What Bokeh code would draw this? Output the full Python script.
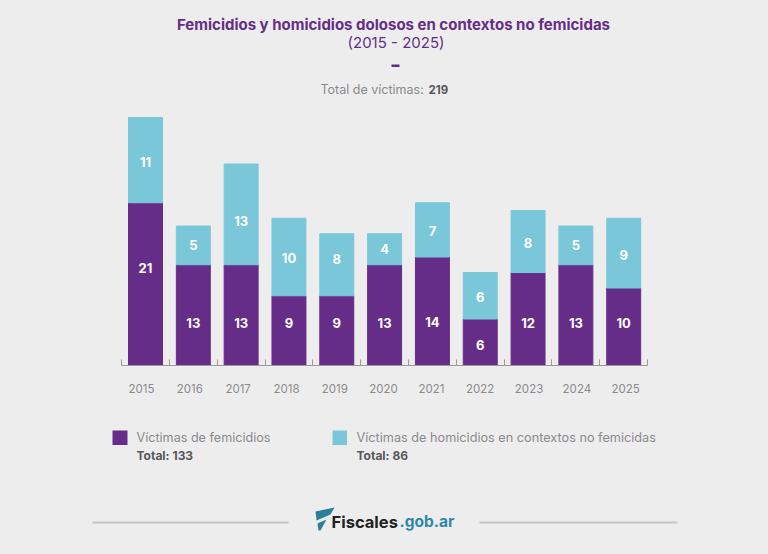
from bokeh.core.properties import value
from bokeh.embed import file_html
from bokeh.resources import INLINE
from bokeh.plotting import figure
from bokeh.models import (Range1d, LinearAxis, FixedTicker, Label, BoxAnnotation,
                          PolyAnnotation, ColumnDataSource)

years = [2015, 2016, 2017, 2018, 2019, 2020, 2021, 2022, 2023, 2024, 2025]
femicidios = [21, 13, 13, 9, 9, 13, 14, 6, 12, 13, 10]
homicidios = [11, 5, 13, 10, 8, 4, 7, 6, 8, 5, 9]
fem_label_nudge = [-16, 8, 8, -8, -8, 8, 11, 3, 4, 8, -4]
hom_label_nudge = [2, 0, 7, 1, -6, 0, 1, 1, 1, 0, 2]
year_label_nudge = [-4, -3.5, -3, -2.5, -2, -1, -1, 0, 1, 1, 2]

title = "Femicidios y homicidios dolosos en contextos no femicidas"
subtitle = "(2015 - 2025)"
total_label = "Total de víctimas:"
total_value = "219"
legend_fem = "Víctimas de femicidios"
legend_hom = "Víctimas de homicidios en contextos no femicidas"
total_fem = "Total: 133"
total_hom = "Total: 86"

PURPLE = "#652d87"
CYAN = "#7ac7d9"
BG = "#eeedee"
GREY = "#8a8a8c"
DARK = "#58585a"
FONT = "Inter"

W, H = 768, 554
PX_PER_YEAR = 47.82
PX_PER_VICTIM = 7.75
X0, Y0 = 145, 365  # pixel position of the first year and of zero victims

p = figure(width=W, height=H, output_backend="svg", toolbar_location=None,
           x_range=Range1d(years[0] - X0 / PX_PER_YEAR, years[0] + (W - X0) / PX_PER_YEAR),
           y_range=Range1d(-(H - Y0) / PX_PER_VICTIM, Y0 / PX_PER_VICTIM),
           x_axis_type=None, y_axis_type=None,
           min_border_left=0, min_border_right=0, min_border_top=0, min_border_bottom=0)
p.background_fill_color = BG
p.border_fill_color = BG
p.outline_line_color = None
p.grid.visible = False

src = ColumnDataSource(dict(
    year=years, fem=femicidios, hom=homicidios,
    top=[a + b for a, b in zip(femicidios, homicidios)],
    fem_mid=[a / 2 for a in femicidios],
    hom_mid=[a + b / 2 for a, b in zip(femicidios, homicidios)],
    fem_txt=[str(v) for v in femicidios],
    hom_txt=[str(v) for v in homicidios],
    fem_nudge=fem_label_nudge, hom_nudge=hom_label_nudge))

p.vbar(x="year", bottom=0, top="fem", width=0.71, color=PURPLE, source=src)
p.vbar(x="year", bottom="fem", top="top", width=0.71, color=CYAN, source=src)

for col, nudge, txt in (("fem_mid", "fem_nudge", "fem_txt"), ("hom_mid", "hom_nudge", "hom_txt")):
    p.text(x="year", y=col, text=txt, y_offset=nudge, source=src, text_color="white",
           text_font=value(FONT), text_font_style="bold", text_font_size="13px",
           text_align="center", text_baseline="middle")

# The reference's year labels drift slightly from their bars, so their ticks do too.
label_ticks = [round(y + n / PX_PER_YEAR, 3) for y, n in zip(years, year_label_nudge)]
axis = LinearAxis(
    fixed_location=0, bounds=(years[0] - 0.5, years[-1] + 0.5),
    ticker=FixedTicker(ticks=label_ticks, minor_ticks=[y - 0.5 for y in years] + [years[-1] + 0.5]),
    major_label_overrides={t: str(y) for t, y in zip(label_ticks, years)},
    major_tick_line_color=None, minor_tick_line_color="#a8978c",
    minor_tick_in=6, minor_tick_out=0,
    axis_line_color="#9a9a9a", axis_line_width=1,
    major_label_standoff=12, major_label_text_color=GREY,
    major_label_text_font=FONT, major_label_text_font_size="11.5px")
p.add_layout(axis, "below")


def text(t, x, y, size, color, style="normal", align="left"):
    p.add_layout(Label(x=x, y=H - y, x_units="screen", y_units="screen", text=t,
                       text_font=FONT, text_font_size=size, text_color=color,
                       text_font_style=style, text_align=align, text_baseline="middle"))


def box(l, r, t, b, color):
    p.add_layout(BoxAnnotation(left=l, right=r, top=H - t, bottom=H - b,
                               left_units="screen", right_units="screen",
                               top_units="screen", bottom_units="screen",
                               fill_color=color, fill_alpha=1, line_color=None))


def poly(pts, color):
    p.add_layout(PolyAnnotation(xs=[a for a, _ in pts], ys=[H - b for _, b in pts],
                                xs_units="screen", ys_units="screen",
                                fill_color=color, fill_alpha=1, line_color=None))


text(title, 393, 24, "15px", PURPLE, "bold", "center")
text(subtitle, 395.5, 42, "15px", PURPLE, "normal", "center")
box(391, 399, 64, 66.5, PURPLE)
text(total_label, 320, 89, "12.5px", GREY)
text(total_value, 428, 89, "11.5px", DARK, "bold")

box(112, 127, 430, 444.5, PURPLE)
box(332, 346.5, 430, 444.5, CYAN)
text(legend_fem, 136, 437, "12.6px", GREY)
text(total_fem, 136, 455, "12px", DARK, "bold")
text(legend_hom, 356, 437, "12.7px", GREY)
text(total_hom, 356, 455, "12px", DARK, "bold")

box(92, 288, 521, 523, "#c6c6c6")
box(479, 677, 521, 523, "#c6c6c6")
poly([(315, 511), (334, 507), (330, 514), (316, 520)], "#2c7f9c")
poly([(317, 523), (326, 519), (320, 530), (318, 530)], "#2c7f9c")
text("Fiscales", 331, 521, "16.5px", "#222222", "bold")
text(".gob.ar", 399, 521, "15.5px", "#2f87a6", "bold")

html = file_html(p, INLINE)
html = html.replace("</head>", f"<style>html,body{{background:{BG};}}</style></head>")
open("out.html", "w").write(html)
